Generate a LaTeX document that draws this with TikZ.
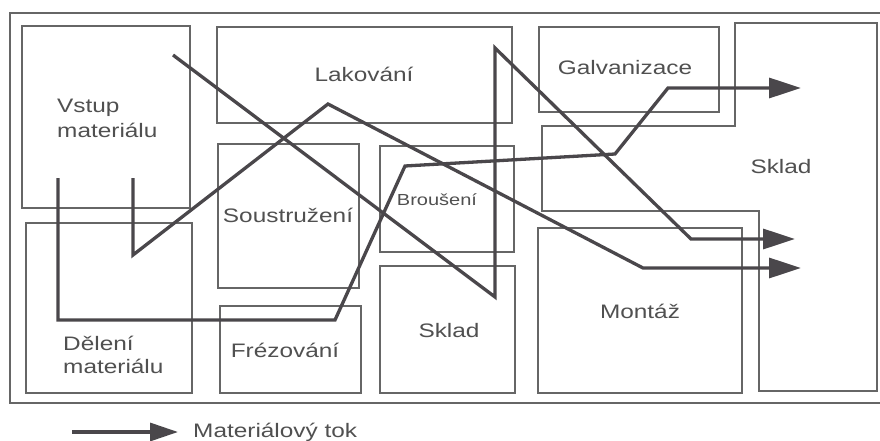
\documentclass[tikz,border=0pt]{standalone}
\usepackage{fontspec}
\setmainfont{Liberation Sans}[FakeStretch=1.25]
\usetikzlibrary{arrows.meta}
\definecolor{flow}{HTML}{4A474B}
\definecolor{boxc}{HTML}{666666}
\definecolor{txt}{HTML}{505050}
\begin{document}
\begin{tikzpicture}[x=1pt,y=-1pt,
  room/.style={draw=boxc, line width=1.1pt},
  lbl/.style={text=txt, font=\fontsize{19.5}{24}\selectfont, inner sep=0pt, anchor=base},
  lblw/.style={lbl, anchor=base west},
  flowline/.style={draw=flow, line width=3.3pt, line join=miter},
  tip/.style={-{Triangle[length=32pt,width=20pt]}}]
\clip (0,0) rectangle (880,441);
\fill[white] (0,0) rectangle (880,441);
% outer frame
\draw[room] (10,13) rectangle (890,403);
% rooms
\draw[room] (22,26) rectangle (190,208);
\draw[room] (217,27) rectangle (512,123);
\draw[room] (218,144) rectangle (359,288);
\draw[room] (380,146) rectangle (514,252);
\draw[room] (539,27) rectangle (719,112);
\draw[room] (735,23) -- (877,23) -- (877,391) -- (759,391) -- (759,211) -- (542,211) -- (542,126) -- (735,126) -- cycle;
\draw[room] (538,228) rectangle (742,393);
\draw[room] (380,266) rectangle (515,393);
\draw[room] (220,306) rectangle (361,393);
\draw[room] (26,223) rectangle (192,393);
% labels
\node[lblw] (vstupA) at (57,113) {Vstup};
\node[lblw] (vstupB) at (57,137) {materiálu};
\node[lbl] (lak) at (364,82) {Lakování};
\node[lbl] (galv) at (625,75) {Galvanizace};
\node[lbl] (skladR) at (781,173) {Sklad};
\node[lbl] (sous) at (288,222) {Soustružení};
\node[lbl, font=\fontsize{16}{19}\selectfont] (brou) at (437,205) {Broušení};
\node[lblw] (delA) at (63,350) {Dělení};
\node[lblw] (delB) at (63,373) {materiálu};
\node[lbl] (frez) at (285,357) {Frézování};
\node[lbl] (skladM) at (449,337) {Sklad};
\node[lbl] (mont) at (640,318) {Montáž};
% flow coordinates
\coordinate (a0) at (58,178);
\coordinate (a1) at (58,320);
\coordinate (a2) at (335,320);
\coordinate (a3) at (405,166);
\coordinate (a4) at (615,154);
\coordinate (a5) at (668,88);
\coordinate (a6) at (801,88);
\coordinate (b0) at (133,178);
\coordinate (b1) at (133,255);
\coordinate (b2) at (328,104);
\coordinate (b3) at (643,268);
\coordinate (b4) at (801,268);
\coordinate (c0) at (173,55);
\coordinate (c1) at (495,297);
\coordinate (c2) at (495,48);
\coordinate (c3) at (691,239);
\coordinate (c4) at (795,239);
% flows
\draw[flowline, tip] (a0) -- (a1) -- (a2) -- (a3) -- (a4) -- (a5) -- (a6);
\draw[flowline, tip] (b0) -- (b1) -- (b2) -- (b3) -- (b4);
\draw[flowline, tip] (c0) -- (c1) -- (c2) -- (c3) -- (c4);
% legend
\coordinate (l0) at (72,432);
\coordinate (l1) at (178,432);
\draw[flowline, -{Triangle[length=28pt,width=18pt]}] (l0) -- (l1);
\node[lblw] (leg) at (193,437) {Materiálový tok};
\end{tikzpicture}
\end{document}
